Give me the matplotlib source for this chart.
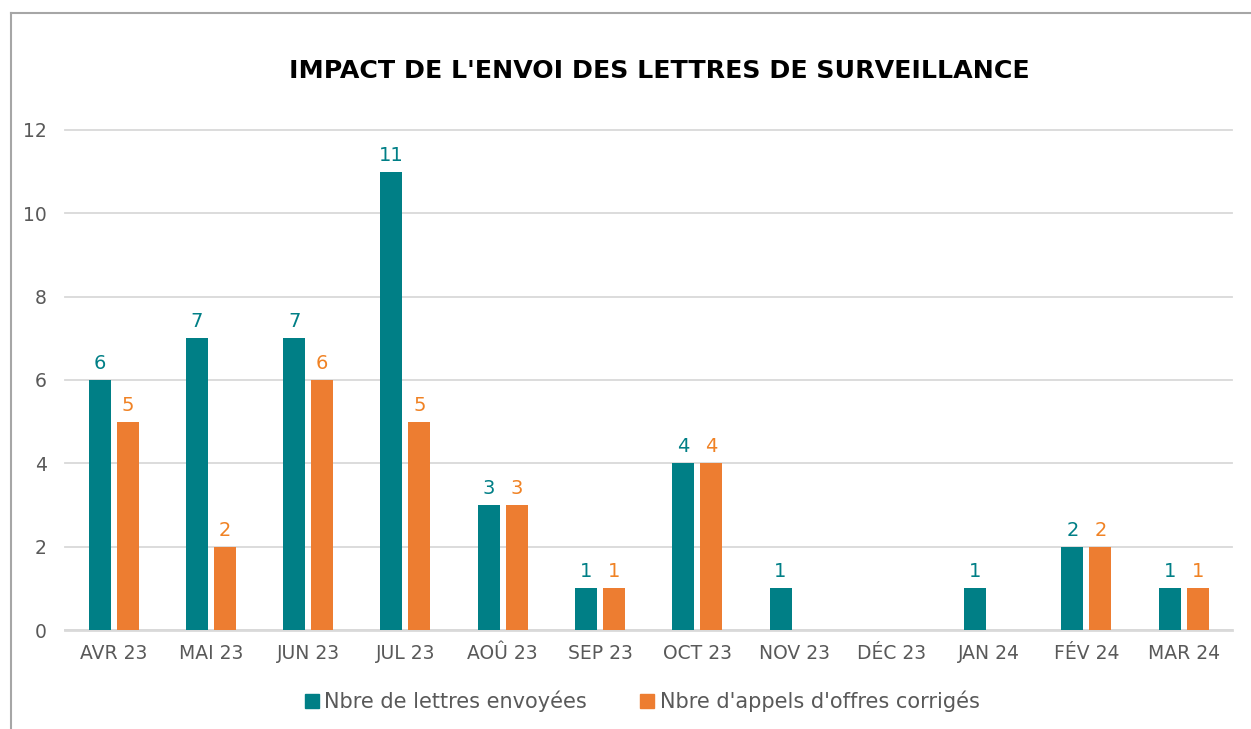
import matplotlib.pyplot as plt
import matplotlib.lines as mlines
import numpy as np

months = ['AVR 23', 'MAI 23', 'JUN 23', 'JUL 23', 'AOÛ 23', 'SEP 23',
          'OCT 23', 'NOV 23', 'DÉC 23', 'JAN 24', 'FÉV 24', 'MAR 24']
lettres = [6, 7, 7, 11, 3, 1, 4, 1, 0, 1, 2, 1]
appels = [5, 2, 6, 5, 3, 1, 4, 0, 0, 0, 2, 1]

teal = '#007F86'
orange = '#ED7D31'
plt.rcParams['font.family'] = ['DejaVu Sans']

fig = plt.figure(figsize=(12.51, 7.29), dpi=100)
ax = fig.add_axes([0.052, 0.1358, 0.933, 0.6859])

x = np.arange(len(months))
w = 0.226
off = 0.144
b1 = ax.bar(x - off, lettres, w, color=teal, label='Nbre de lettres envoyées', zorder=3)
b2 = ax.bar(x + off, appels, w, color=orange, label="Nbre d'appels d'offres corrigés", zorder=3)

# value labels, zeros are not shown
for bars, vals, c in [(b1, lettres, teal), (b2, appels, '#F08224')]:
    for r, v in zip(bars, vals):
        if v > 0:
            ax.annotate(str(v), (r.get_x() + r.get_width() / 2, v), xytext=(0, 5),
                        textcoords='offset points', ha='center', va='bottom',
                        color=c, fontsize=14)

ax.set_xlim(-0.5, 11.5)
ax.set_ylim(0, 12)
ax.set_yticks(range(0, 13, 2))
ax.set_xticks(x)
ax.set_xticklabels(months)
ax.grid(axis='y', color='#D9D9D9', linewidth=1.3, zorder=0)
for g in ax.get_ygridlines():
    g.set_clip_on(False)
for s in ['top', 'right', 'left']:
    ax.spines[s].set_visible(False)
ax.spines['bottom'].set_color('#D9D9D9')
ax.spines['bottom'].set_linewidth(2)
ax.tick_params(axis='both', length=0, labelsize=13.5, colors='#595959')
ax.tick_params(axis='x', pad=10)
ax.tick_params(axis='y', pad=13)

fig.text(0.527, 0.902, "IMPACT DE L'ENVOI DES LETTRES DE SURVEILLANCE",
         ha='center', va='center', fontsize=18.2, fontweight='bold', color='black')

h1 = mlines.Line2D([], [], marker='s', color=teal, linestyle='None', markersize=10)
h2 = mlines.Line2D([], [], marker='s', color=orange, linestyle='None', markersize=10)
fig.legend([h1, h2], ['Nbre de lettres envoyées', "Nbre d'appels d'offres corrigés"],
           loc='center', bbox_to_anchor=(0.512, 0.038), ncol=2, frameon=False,
           fontsize=15, labelcolor='#595959', handletextpad=0.1, columnspacing=2.4,
           handlelength=1.0)

# outer frame (left and top only, the rest is cut off)
fig.add_artist(mlines.Line2D([0.0088, 0.0088], [0, 0.982], color='#A6A6A6', lw=1.5,
                            transform=fig.transFigure))
fig.add_artist(mlines.Line2D([0.0088, 1.0], [0.982, 0.982], color='#A6A6A6', lw=1.5,
                            transform=fig.transFigure))

fig.savefig('out.png', dpi=100)
